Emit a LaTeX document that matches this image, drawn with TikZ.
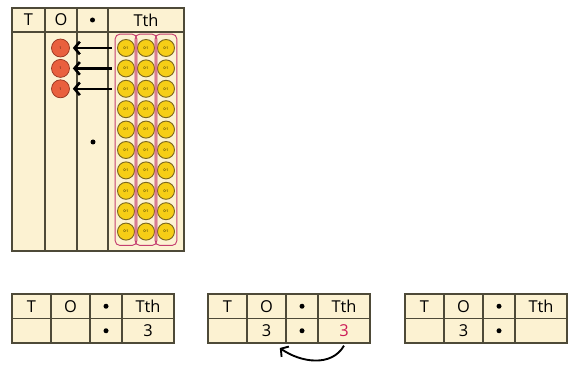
\documentclass[tikz,border=0pt]{standalone}
\usepackage{fontspec}
\setmainfont{Open Sans}
\usepackage{xcolor}
\usetikzlibrary{arrows.meta,positioning,fit}

\definecolor{cream}{RGB}{252,242,210}
\definecolor{linec}{RGB}{78,74,56}
\definecolor{gold}{RGB}{246,206,22}
\definecolor{goldline}{RGB}{125,104,30}
\definecolor{ored}{RGB}{233,96,62}
\definecolor{oredline}{RGB}{150,52,32}
\definecolor{boxline}{RGB}{196,62,112}
\definecolor{redtxt}{RGB}{205,28,88}

\begin{document}
\begin{tikzpicture}[
  x=0.03cm, y=-0.03cm,
  cell/.style={draw=linec, line width=1pt, fill=cream, outer sep=0pt, inner sep=0pt, minimum height=0.735cm, font=\fontsize{14}{16}\selectfont},
  hcell/.style={cell, minimum height=0.72cm},
  bcell/.style={cell, minimum height=6.57cm},
  dotcell/.style={path picture={\fill[black] (path picture bounding box.center) circle (0.075cm);}},
  pvdot/.style={circle, fill=black, inner sep=0pt, minimum size=0.15cm},
  yc/.style={circle, draw=goldline, line width=0.8pt, fill=gold, minimum size=0.51cm, inner sep=0pt, outer sep=0pt, font=\fontsize{3}{3}\selectfont},
  rc/.style={circle, draw=oredline, line width=0.6pt, fill=ored, minimum size=0.54cm, inner sep=0pt, outer sep=0pt, font=\fontsize{3}{3}\selectfont},
  colbox/.style={draw=boxline, line width=0.8pt, rounded corners=4pt, inner xsep=0.07cm, inner ysep=0.16cm},
  arr/.style={-{Straight Barb[length=1.6mm, width=3.8mm]}, line width=2.2pt}
]
  \useasboundingbox (0,0) rectangle (574,366);

  % place value chart with counters
  \node[hcell, minimum width=0.99cm] (tT) at (28.5,20) {T};
  \node[hcell, minimum width=0.96cm, right=0pt of tT] (tO) {O};
  \node[hcell, dotcell, minimum width=0.93cm, right=0pt of tO] (tD) {};
  \node[hcell, minimum width=2.28cm, right=0pt of tD] (tTh) {Tth};
  \node[bcell, minimum width=0.99cm, below=0pt of tT] (bT) {};
  \node[bcell, minimum width=0.96cm, below=0pt of tO] (bO) {};
  \node[bcell, minimum width=0.93cm, below=0pt of tD] (bD) {};
  \node[bcell, minimum width=2.28cm, below=0pt of tTh] (bTh) {};
  \node[pvdot] (bdot) at (93,142) {};

  \foreach \r in {1,...,10}
    \foreach \c in {1,2,3}
      \node[yc] (y\r-\c) at ({106+20*\c},{27.6+20.4*\r}) {0·1};
  \foreach \c in {1,2,3}
    \node[colbox, fit=(y1-\c)(y10-\c)] (box\c) {};

  \foreach \r in {1,2,3} {
    \node[rc] (r\r) at (60.5,{27.6+20.4*\r}) {1};
    \draw[arr, shorten <=0.17cm, shorten >=0.1cm] (y\r-1) -- (r\r);
  }

  % the three small charts
  \foreach \k/\x/\o/\t in {1/12/{}/3, 2/208/3/{\textcolor{redtxt}{3}}, 3/405/3/{}} {
    \node[cell, minimum width=1.17cm] (h\k-T) at ({\x+19.5},306.25) {T};
    \node[cell, minimum width=1.17cm, right=0pt of h\k-T] (h\k-O) {O};
    \node[cell, dotcell, minimum width=0.96cm, right=0pt of h\k-O] (h\k-D) {};
    \node[cell, minimum width=1.56cm, right=0pt of h\k-D] (h\k-Th) {Tth};
    \node[cell, minimum width=1.17cm, below=0pt of h\k-T] (b\k-T) {};
    \node[cell, minimum width=1.17cm, below=0pt of h\k-O] (b\k-O) {\o};
    \node[cell, dotcell, minimum width=0.96cm, below=0pt of h\k-D] (b\k-D) {};
    \node[cell, minimum width=1.56cm, below=0pt of h\k-Th] (b\k-Th) {\t};
  }

  \draw[arr, line width=1.6pt] ([yshift=-0.08cm]b2-Th.south) to[out=-120, in=-35] ([xshift=0.4cm, yshift=-0.15cm]b2-O.south);
\end{tikzpicture}
\end{document}
